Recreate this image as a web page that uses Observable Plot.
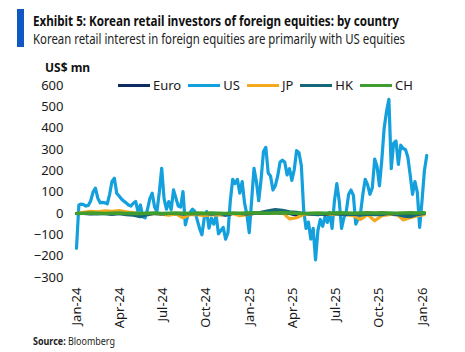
<!DOCTYPE html>
<html><head><meta charset="utf-8">
<script src="https://cdn.jsdelivr.net/npm/d3@7"></script>
<script src="https://cdn.jsdelivr.net/npm/@observablehq/plot@0.6"></script>
<style>
body{margin:0;background:#fff;}
#wrap{position:relative;width:465px;height:352px;overflow:hidden;font-family:"Noto Sans",sans-serif;color:#1a1a1a;background:#fff;}
#chart{position:absolute;left:0;top:0;}
#bar{position:absolute;left:17px;top:9px;width:7px;height:38px;background:#1158c7;}
.fit{position:absolute;left:33px;white-space:nowrap;transform-origin:0 50%;line-height:1;}
#title{top:13px;font-size:15px;font-weight:700;color:#111;}
#subtitle{top:32px;font-size:14px;color:#222;}
#source{top:335px;font-size:11px;color:#222;}
#unit{position:absolute;left:45px;top:62px;font-size:12px;font-weight:700;line-height:1;color:#111;}
#legend{position:absolute;left:118px;top:76px;display:flex;align-items:center;font-size:13px;line-height:18px;color:#1a1a1a;}
#legend .sw{width:32px;height:3px;margin-right:3px;}
#legend .lb{margin-right:7px;}
</style></head><body>
<div id="wrap">
  <div id="chart"></div>
  <div id="bar"></div>
  <div id="title" class="fit" data-w="366">Exhibit 5: Korean retail investors of foreign equities: by country</div>
  <div id="subtitle" class="fit" data-w="372">Korean retail interest in foreign equities are primarily with US equities</div>
  <div id="unit">US$ mn</div>
  <div id="legend"></div>
  <div id="source" class="fit" data-w="82"><b>Source:</b> Bloomberg</div>
</div>
<script>
// ---- data ----
const seriesNames = ["Euro", "US", "JP", "HK", "CH"];
const seriesColors = ["#0c2c63", "#13a0dd", "#f2a91e", "#17677a", "#3f9c2e"];
const drawOrder = ["US", "Euro", "JP", "HK", "CH"];
const startDate = "2024-01-01";
const endDate = "2026-01-01";
const usStepDays = 5;
const minorStepDays = 15;
const usValues = [
  -163, 40, 44, 42, 35, 38, 60, 100, 119, 72, 50, 52, 50, 45, 90, 150, 165, 95, 82, 68,
  58, 50, 40, 35, 48, 56, 9, 40, -15, -20, 20, 70, 95, 30, 10, 100, 212, 70, 20, 56,
  17, 111, 72, 35, 30, 103, -53, -10, 5, 20, 10, -30, -70, -100, -20, 9, -69, -22, -50, -10,
  -95, -80, -65, -120, -90, 60, 160, 140, 160, 95, 150, 50, -5, -90, 60, 212, 150, 60, 160, 290,
  310, 190, 175, 110, 130, 175, 240, 250, 240, 181, 210, 155, 205, 295, 285, 225, 15, -70, -40, -120,
  -70, -217, -80, -28, -60, -15, -42, 5, -70, 60, 140, 60, -70, -20, 10, 90, 110, 85, -50, -25,
  0, 90, 160, 135, 90, 120, 255, 220, 130, 250, 400, 478, 535, 210, 330, 340, 230, 320, 305, 300,
  265, 180, 90, 150, 100, -65, 60, 200, 272
];
const euroValues = [0,0,-2,0,0,-3,0,-2,0,-5,0,0,-2,0,-3,0,-2,0,-5,0,-3,-8,0,0,-2,0,0,2,3,2,0,-8,0,-2,0,-5,-3,0,-2,0,-3,0,-2,0,-3,-5,-8,-5,0,0];
const jpValues = [0,5,10,8,12,10,14,8,3,0,-5,0,-3,-8,-2,-20,-5,-5,-10,-5,-8,-3,0,-10,-5,0,5,3,0,5,-25,-20,-5,0,-3,0,-5,0,-5,-10,-28,-5,-34,-10,-5,0,-30,-20,-10,-5];
const hkValues = [0,0,0,-2,0,-3,0,-5,-8,-15,-5,0,-2,0,0,-3,0,-2,0,-3,0,-5,0,0,-3,0,5,12,18,15,8,5,0,-3,-5,-2,0,-3,-5,-3,-8,-3,-5,-5,0,-3,-12,-15,-5,0];
const chValues = [0,1,2,1,0,1,2,0,1,0,1,2,0,1,2,1,0,2,1,2,1,0,2,1,2,3,2,1,2,3,2,1,0,1,2,1,2,3,2,1,2,3,2,3,2,1,2,3,2,3];
const yTicks = [-300, -200, -100, 0, 100, 200, 300, 400, 500, 600];
const xTickLabels = ["2024-01-01","2024-04-01","2024-07-01","2024-10-01","2025-01-01","2025-04-01","2025-07-01","2025-10-01","2026-01-01"];

// ---- build ----
const t0 = new Date(startDate + "T00:00:00Z");
const mk = (name, vals, step) => vals.map((v, i) => ({series: name, date: d3.utcDay.offset(t0, i * step), value: v}));
const bySeries = {
  US: mk("US", usValues, usStepDays),
  Euro: mk("Euro", euroValues, minorStepDays),
  JP: mk("JP", jpValues, minorStepDays),
  HK: mk("HK", hkValues, minorStepDays),
  CH: mk("CH", chValues, minorStepDays)
};
const colorOf = Object.fromEntries(seriesNames.map((n, i) => [n, seriesColors[i]]));

const chart = Plot.plot({
  width: 465, height: 352,
  marginTop: 85, marginBottom: 75, marginLeft: 76, marginRight: 43,
  x: {type: "utc", domain: [t0, new Date(endDate + "T00:00:00Z")]},
  y: {domain: [-300, 600]},
  style: {fontFamily: "Noto Sans, sans-serif", fontSize: "13px", color: "#1a1a1a", background: "transparent"},
  marks: [
    Plot.axisY({ticks: yTicks, tickSize: 0, tickPadding: 13, label: null, fontSize: 13}),
    Plot.axisX({ticks: xTickLabels.map(s => new Date(s + "T00:00:00Z")), tickFormat: d3.utcFormat("%b-%y"), tickRotate: -90, tickSize: 0, tickPadding: 10, label: null, fontSize: 13}),
    ...drawOrder.map(n => Plot.lineY(bySeries[n], {x: "date", y: "value", stroke: colorOf[n], strokeWidth: n === "CH" ? 3.5 : 3.2, strokeLinejoin: "round", clip: false}))
  ]
});
document.getElementById("chart").appendChild(chart);

// legend
const lg = document.getElementById("legend");
seriesNames.forEach((n, i) => {
  const sw = document.createElement("span"); sw.className = "sw"; sw.style.background = seriesColors[i];
  const lb = document.createElement("span"); lb.className = "lb"; lb.textContent = n;
  lg.appendChild(sw); lg.appendChild(lb);
});

// fit condensed text widths
document.querySelectorAll(".fit").forEach(el => {
  const w = el.getBoundingClientRect().width;
  const target = +el.dataset.w;
  el.style.transform = `scaleX(${target / w})`;
});
</script>
</body></html>
